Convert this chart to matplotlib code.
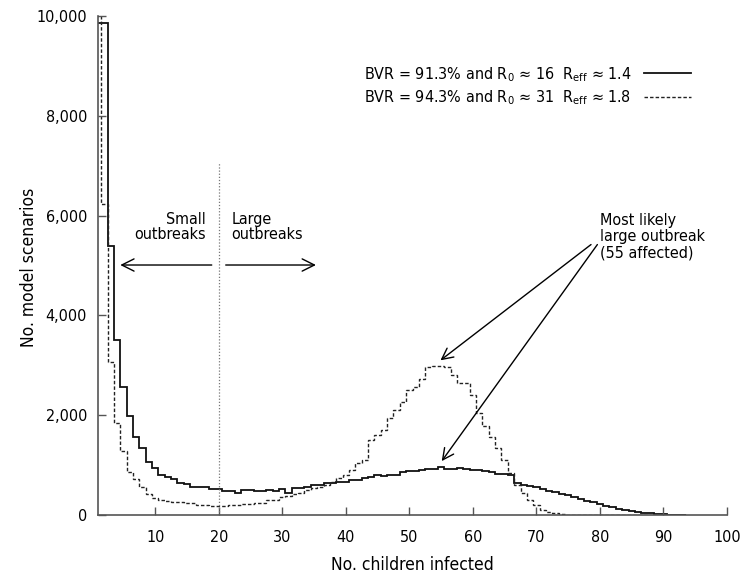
import numpy as np
import matplotlib
matplotlib.use("Agg")
import matplotlib.pyplot as plt

# children infected (bin centres) and number of model scenarios per bin
children = np.arange(1, 94)

bvr_913 = [9850, 9850, 5390, 3500, 2570, 1980, 1560, 1350, 1060, 940,
           800, 755, 715, 650, 630, 567, 567, 567, 521, 521,
           481, 481, 447, 501, 501, 481, 481, 501, 481, 515,
           447, 535, 535, 567, 601, 601, 635, 635, 668, 668,
           701, 701, 735, 770, 800, 790, 800, 800, 860, 880,
           880, 900, 920, 930, 960, 930, 930, 935, 930, 910,
           905, 880, 870, 820, 830, 800, 635, 610, 580, 560,
           520, 490, 460, 430, 400, 360, 320, 290, 260, 230,
           190, 160, 130, 110, 90, 70, 50, 35, 22, 14,
           8, 4, 2]

bvr_943 = [10000, 6230, 3070, 1840, 1280, 860, 720, 560, 420, 340,
           300, 280, 270, 267, 250, 234, 210, 200, 180, 180,
           190, 200, 200, 220, 220, 240, 250, 300, 300, 367,
           381, 421, 448, 501, 534, 560, 601, 668, 735, 802,
           902, 1040, 1100, 1500, 1600, 1703, 1937, 2104, 2271, 2505,
           2572, 2719, 2960, 2990, 2980, 2960, 2800, 2640, 2640, 2405,
           2037, 1780, 1570, 1336, 1100, 836, 600, 434, 301, 200,
           110, 70, 33, 20, 10, 5, 0, 0, 0, 0,
           0, 0, 0, 0, 0, 0, 0, 0, 0, 0,
           0, 0, 0]

labels = ["BVR = 91.3% and R$_0$ \u2248 16  R$_{eff}$ \u2248 1.4",
          "BVR = 94.3% and R$_0$ \u2248 31  R$_{eff}$ \u2248 1.8"]

plt.rcParams['font.family'] = ['DejaVu Sans']
plt.rcParams['font.stretch'] = 'condensed'
plt.rcParams['mathtext.default'] = 'regular'

fig = plt.figure(figsize=(7.5, 5.82), dpi=100)
ax = fig.add_axes([0.1307, 0.1151, 0.8386, 0.8574])

edges = np.append(children - 0.5, children[-1] + 0.5)
ax.stairs(bvr_913, edges, baseline=None, color='#111111', lw=1.3,
          label=labels[0])
ax.stairs(bvr_943, edges, baseline=None, color='#222222', lw=1.0,
          linestyle=(0, (2.5, 1.5)), label=labels[1])

ax.set_xlim(1, 100)
ax.set_ylim(0, 10000)
ax.set_xticks(np.arange(10, 101, 10))
ax.set_yticks(np.arange(0, 10001, 2000))
ax.set_yticklabels(['0', '2,000', '4,000', '6,000', '8,000', '10,000'])
ax.tick_params(direction='in', length=6, width=1, labelsize=11.5,
               color='#555555', pad=8)
ax.tick_params(axis='x', pad=11)
for s in ['top', 'right']:
    ax.spines[s].set_visible(False)
for s in ['left', 'bottom']:
    ax.spines[s].set_color('#555555')
    ax.spines[s].set_linewidth(1.2)

ax.set_xlabel('No. children infected', fontsize=12.5)
ax.set_ylabel('No. model scenarios', fontsize=12.5)
ax.xaxis.set_label_coords(0.5, -0.082)
ax.yaxis.set_label_coords(-0.095, 0.497)

# small / large outbreak divider
ax.plot([20, 20], [0, 7050], color='#777777', lw=0.9, linestyle=(0, (1, 1.5)))
ax.text(17.9, 5770, 'Small\noutbreaks', ha='right', va='center',
        fontsize=11.5, linespacing=1.05)
ax.text(22.0, 5770, 'Large\noutbreaks', ha='left', va='center',
        fontsize=11.5, linespacing=1.05)
ax.annotate('', xy=(4.5, 5010), xytext=(18.9, 5010),
            arrowprops=dict(arrowstyle='->', lw=1, color='black',
                            mutation_scale=22, shrinkA=0, shrinkB=0))
ax.annotate('', xy=(35.3, 5010), xytext=(21.1, 5010),
            arrowprops=dict(arrowstyle='->', lw=1, color='black',
                            mutation_scale=22, shrinkA=0, shrinkB=0))

# most likely outbreak
ax.text(80.0, 5580, 'Most likely\nlarge outbreak\n(55 affected)',
        ha='left', va='center', fontsize=11.5, linespacing=1.1)
ax.annotate('', xy=(54.9, 3100), xytext=(78.6, 5420),
            arrowprops=dict(arrowstyle='->', lw=1, color='black',
                            mutation_scale=20, shrinkA=0, shrinkB=0))
ax.annotate('', xy=(55.1, 1080), xytext=(79.6, 5420),
            arrowprops=dict(arrowstyle='->', lw=1, color='black',
                            mutation_scale=20, shrinkA=0, shrinkB=0))

ax.legend(loc='upper right', bbox_to_anchor=(0.955, 0.918), frameon=False,
          markerfirst=False, fontsize=11.5, handlelength=2.9,
          handletextpad=0.8, labelspacing=0.3, borderpad=0)

fig.savefig('out.png', dpi=100)
